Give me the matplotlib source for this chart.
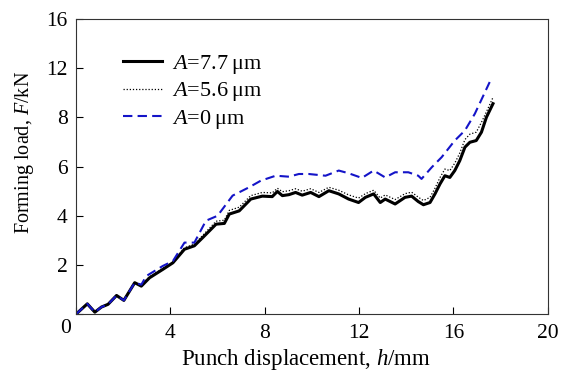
import numpy as np
import matplotlib
matplotlib.use("Agg")
import matplotlib.pyplot as plt

plt.rcParams['font.family'] = 'Liberation Serif'
plt.rcParams['mathtext.fontset'] = 'custom'
plt.rcParams['mathtext.rm'] = 'Liberation Serif'
plt.rcParams['mathtext.it'] = 'Liberation Serif:italic'

# A = 7.7 um (solid)
h_77 = [0, 0.48, 0.80, 1.08, 1.36, 1.72, 2.03, 2.49, 2.77, 3.12, 3.68, 4.11, 4.60, 5.02,
        5.37, 5.94, 6.29, 6.50, 6.92, 7.41, 7.90, 8.32, 8.54, 8.75, 9.03, 9.31, 9.59,
        9.95, 10.30, 10.72, 11.14, 11.56, 11.98, 12.27, 12.62, 12.90, 13.11, 13.53, 13.95,
        14.23, 14.51, 14.73, 15.01, 15.22, 15.43, 15.64, 15.85, 16.06, 16.27, 16.49, 16.70,
        16.97, 17.19, 17.40, 17.68]
F_77 = [0, 0.42, 0.08, 0.29, 0.40, 0.76, 0.56, 1.28, 1.14, 1.48, 1.82, 2.09, 2.64, 2.78,
        3.11, 3.66, 3.69, 4.07, 4.20, 4.68, 4.80, 4.78, 4.99, 4.82, 4.86, 4.95, 4.84,
        4.95, 4.78, 5.02, 4.89, 4.68, 4.54, 4.75, 4.89, 4.54, 4.68, 4.48, 4.75,
        4.80, 4.58, 4.45, 4.54, 4.89, 5.29, 5.63, 5.56, 5.84, 6.24, 6.79, 6.99,
        7.06, 7.40, 8.01, 9.12]

# A = 5.6 um (dotted)
h_56 = [0, 0.48, 0.80, 1.08, 1.36, 1.72, 2.03, 2.49, 2.77, 3.12, 3.68, 4.11, 4.60, 5.02,
        5.37, 5.94, 6.29, 6.50, 6.92, 7.41, 7.90, 8.32, 8.54, 8.75, 9.03, 9.31, 9.59,
        9.95, 10.30, 10.72, 11.14, 11.56, 11.98, 12.27, 12.62, 12.90, 13.11, 13.53, 13.95,
        14.23, 14.51, 14.73, 15.01, 15.22, 15.43, 15.64, 15.85, 16.06, 16.27, 16.49, 16.70,
        16.97, 17.19, 17.40, 17.68]
F_56 = [0, 0.42, 0.10, 0.30, 0.42, 0.78, 0.58, 1.30, 1.18, 1.52, 1.86, 2.12, 2.70, 2.85,
        3.20, 3.78, 3.82, 4.22, 4.35, 4.82, 4.95, 4.93, 5.12, 4.98, 5.02, 5.10, 5.00,
        5.10, 4.95, 5.16, 5.04, 4.85, 4.72, 4.90, 5.04, 4.72, 4.85, 4.66, 4.90,
        4.96, 4.76, 4.62, 4.75, 5.12, 5.55, 5.90, 5.84, 6.14, 6.55, 7.10, 7.32,
        7.40, 7.80, 8.45, 9.63]

# A = 0 um (dashed)
h_0 = [0, 0.48, 0.80, 1.08, 1.36, 1.72, 2.03, 2.49, 2.77, 2.98, 3.68, 4.11, 4.60, 5.02,
       5.51, 6.00, 6.64, 7.34, 7.84, 8.47, 9.03, 9.45, 9.87, 10.58, 11.14, 11.56, 12.12,
       12.62, 13.11, 13.53, 14.09, 14.51, 14.65, 15.08, 15.50, 16.06, 16.49, 16.91, 17.54]
F_0 = [0, 0.42, 0.08, 0.29, 0.40, 0.76, 0.56, 1.28, 1.20, 1.55, 1.96, 2.16, 2.91, 2.91,
       3.80, 4.00, 4.82, 5.16, 5.43, 5.63, 5.59, 5.70, 5.70, 5.63, 5.84, 5.73, 5.54,
       5.84, 5.56, 5.77, 5.77, 5.63, 5.50, 5.97, 6.38, 7.06, 7.47, 8.30, 10.88]

labels = ['$A$=7.7\u2009\u03bcm', '$A$=5.6\u2009\u03bcm', '$A$=0\u2009\u03bcm']
y_ticks = [0, 2, 4, 6, 8, 12, 16]
x_ticks = [0, 4, 8, 12, 16, 20]


# y axis: linear to 8, then half scale up to 16
def fwd(y):
    y = np.asarray(y, dtype=float)
    return np.where(y <= 8, y, 8 + (y - 8) / 2)


def inv(p):
    p = np.asarray(p, dtype=float)
    return np.where(p <= 8, p, 8 + (p - 8) * 2)


fig = plt.figure(figsize=(5.67, 3.74), dpi=100)
ax = fig.add_axes([0.134, 0.160, 0.832, 0.789])
ax.set_yscale('function', functions=(fwd, inv))

ax.plot(h_77, F_77, color='black', lw=2.2, label=labels[0])
ax.plot(h_56, F_56, color='black', lw=0.9, ls=(0, (1, 1.5)), label=labels[1])
ax.plot(h_0, F_0, color='#1414c8', lw=1.5, ls=(0, (4.5, 2.5)), label=labels[2])

ax.set_xlim(0, 20)
ax.set_ylim(0, 16)
ax.set_xticks(x_ticks)
ax.set_xticklabels([''] + [str(t) for t in x_ticks[1:]])
ax.set_yticks(y_ticks)
ax.set_yticklabels([''] + [str(t) for t in y_ticks[1:]])
ax.yaxis.set_minor_locator(matplotlib.ticker.NullLocator())
ax.tick_params(direction='in', labelsize=15.5, length=5, width=0.8)
ax.tick_params(axis='x', pad=7)
ax.tick_params(axis='y', pad=6)
ax.annotate('0', xy=(0, 0), xytext=(-7.2, -10.5), textcoords='offset points',
            ha='center', va='center', fontsize=15.5)
for s in ax.spines.values():
    s.set_linewidth(0.8)
    s.set_color('#333333')

ax.set_xlabel('Punch displacement, $h$/mm', fontsize=16.5)
ax.set_ylabel('Forming load, $F$/kN', fontsize=14.5)
ax.xaxis.set_label_coords(0.487, -0.112)
ax.yaxis.set_label_coords(-0.085, 0.549)

ax.legend(loc='upper left', bbox_to_anchor=(0.0996, 0.885), frameon=False,
          fontsize=16, borderpad=0, borderaxespad=0, handlelength=1.75,
          handletextpad=0.45, labelspacing=0.2)

fig.savefig('out.png', dpi=100)
